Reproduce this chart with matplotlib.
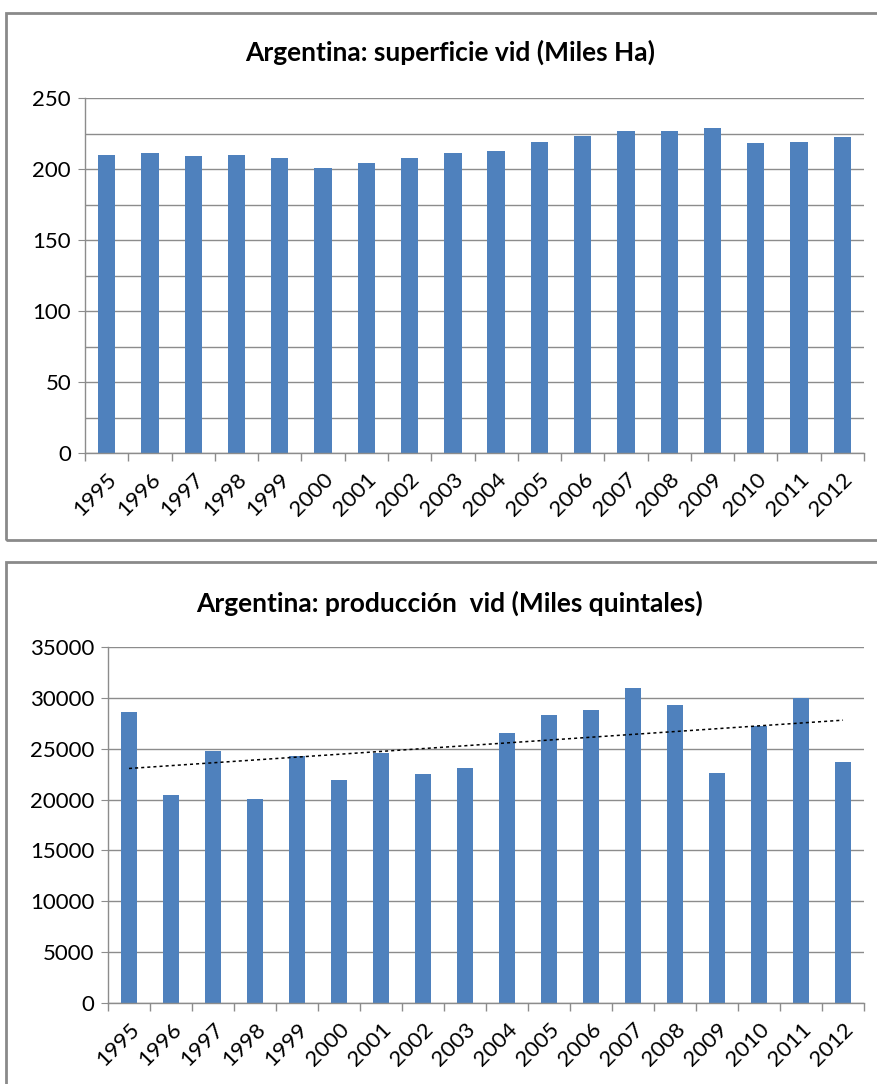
import numpy as np
import matplotlib
matplotlib.use("Agg")
import matplotlib.pyplot as plt
from matplotlib.patches import Rectangle

plt.rcParams['font.family'] = ['Lato', 'DejaVu Sans']

years = ['1995', '1996', '1997', '1998', '1999', '2000', '2001', '2002', '2003',
         '2004', '2005', '2006', '2007', '2008', '2009', '2010', '2011', '2012']

superficie = [210, 211, 209, 210, 208, 201, 204, 208, 211,
              213, 219, 223, 226.5, 226.5, 229, 218, 219, 222.5]

produccion = [28600, 20450, 24780, 20060, 24250, 21930, 24580, 22520, 23110,
              26520, 28350, 28810, 30970, 29270, 22610, 27270, 30020, 23670]

bar_color = '#4F81BD'
grid_color = '#8C8C8C'
W, H = 877, 1084

fig = plt.figure(figsize=(W / 100, H / 100), dpi=100)

# chart frames (Excel style)
for (x0, y0, x1, y1) in [(6, 13, 890, 540), (6, 562, 890, 1100)]:
    fig.patches.append(Rectangle((x0 / W, 1 - y1 / H), (x1 - x0) / W, (y1 - y0) / H,
                                 transform=fig.transFigure, fill=False,
                                 edgecolor='#8A8A8A', linewidth=2, clip_on=False))


def style_axis(ax, ymax, major, minor_grid):
    x = np.arange(len(years))
    ax.set_xlim(-0.5, len(years) - 0.5)
    ax.set_ylim(0, ymax)
    ax.set_yticks(np.arange(0, ymax + 1, major))
    ax.set_yticks(np.arange(0, ymax + 1, minor_grid), minor=True)
    ax.yaxis.grid(True, which='both', color=grid_color, linewidth=1)
    ax.set_axisbelow(True)
    ax.set_xticks(x)
    ax.set_xticklabels(years, rotation=45, ha='right', rotation_mode='anchor')
    ax.set_xticks(np.arange(-0.5, len(years)), minor=True)
    ax.tick_params(axis='x', which='major', length=0, pad=12, labelsize=16)
    ax.tick_params(axis='x', which='minor', length=6, color=grid_color, width=1)
    ax.tick_params(axis='y', which='major', length=5, color=grid_color, labelsize=16, pad=5)
    ax.tick_params(axis='y', which='minor', length=0)
    for s in ['top', 'right']:
        ax.spines[s].set_visible(False)
    for s in ['left', 'bottom']:
        ax.spines[s].set_color(grid_color)
        ax.spines[s].set_linewidth(1)


# top chart
ax1 = fig.add_axes([85 / W, 1 - 453 / H, (864 - 85) / W, (453 - 98) / H])
ax1.bar(np.arange(len(years)), superficie, width=0.4, color=bar_color)
style_axis(ax1, 250, 50, 25)
fig.text(450 / W, 1 - 52 / H, 'Argentina: superficie vid (Miles Ha)',
         ha='center', va='center', fontsize=19, fontweight='bold')

# bottom chart
ax2 = fig.add_axes([108 / W, 1 - 1003 / H, (864 - 108) / W, (1003 - 647) / H])
xs = np.arange(len(years))
ax2.bar(xs, produccion, width=0.4, color=bar_color)
coef = np.polyfit(xs, produccion, 1)
ax2.plot(xs, np.polyval(coef, xs), color='black', linewidth=1.1, linestyle=(0, (2, 2)))
style_axis(ax2, 35000, 5000, 5000)
fig.text(450 / W, 1 - 603 / H, 'Argentina: producción  vid (Miles quintales)',
         ha='center', va='center', fontsize=19, fontweight='bold')

fig.savefig('out.png', dpi=100)
